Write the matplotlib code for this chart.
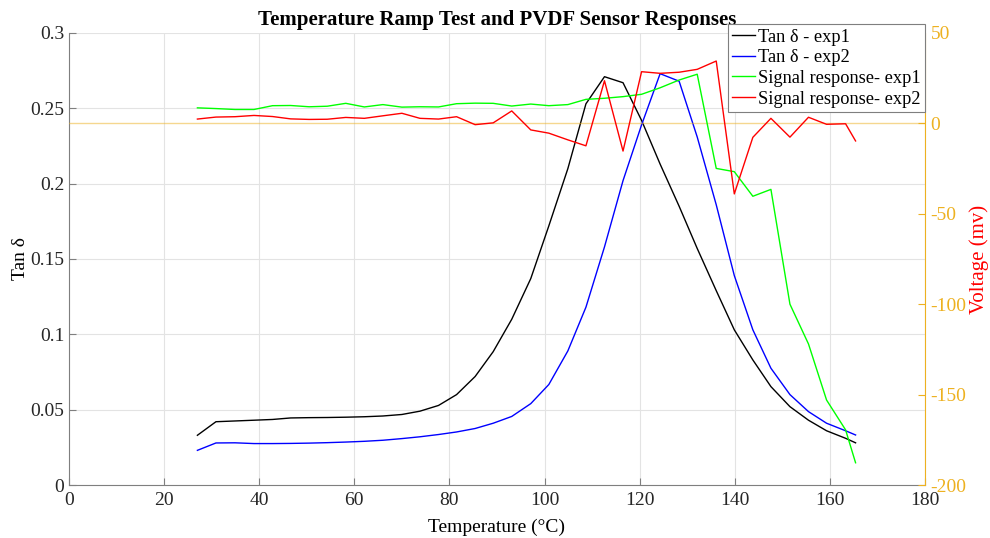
import matplotlib
matplotlib.use("Agg")
import matplotlib.pyplot as plt

plt.rcParams['font.family'] = ['Liberation Serif', 'DejaVu Serif']
plt.rcParams['axes.unicode_minus'] = False

# Temperatures (°C)
temperature = [27.0, 30.9, 34.9, 38.9, 42.8, 46.6, 50.5, 54.3, 58.2, 62.1,
               66.0, 70.0, 73.8, 77.7, 81.5, 85.4, 89.2, 93.1, 97.1, 100.9,
               104.9, 108.7, 112.6, 116.5, 120.4, 124.3, 128.3, 132.1, 136.1, 139.9,
               143.8, 147.6, 151.6, 155.5, 159.3, 163.3, 165.4]

tan_exp1 = [0.033, 0.042, 0.0425, 0.043, 0.0435, 0.0445, 0.0447, 0.0448, 0.045, 0.0453,
            0.0458, 0.0468, 0.049, 0.0528, 0.060, 0.072, 0.0885, 0.110, 0.137, 0.172,
            0.210, 0.253, 0.271, 0.267, 0.242, 0.213, 0.185, 0.157, 0.129, 0.103,
            0.083, 0.0653, 0.052, 0.043, 0.036, 0.031, 0.028]

tan_exp2 = [0.023, 0.0279, 0.028, 0.0275, 0.0275, 0.0276, 0.0278, 0.0281, 0.0285, 0.029,
            0.0297, 0.0308, 0.032, 0.0335, 0.0352, 0.0375, 0.041, 0.0455, 0.054, 0.0667,
            0.089, 0.118, 0.158, 0.202, 0.239, 0.273, 0.268, 0.231, 0.186, 0.139,
            0.103, 0.0775, 0.060, 0.0487, 0.041, 0.036, 0.0332]

signal_exp1 = [8.6, 8.2, 7.7, 7.7, 9.8, 9.9, 9.2, 9.5, 11.1, 9.1,
               10.4, 9.0, 9.2, 9.1, 10.9, 11.2, 11.1, 9.6, 10.7, 9.8,
               10.4, 13.3, 13.9, 14.8, 16.1, 19.7, 24.0, 27.2, -24.9, -26.7,
               -40.3, -36.5, -100.0, -122.0, -153.0, -169.5, -187.7]

signal_exp2 = [2.4, 3.5, 3.7, 4.4, 3.8, 2.5, 2.2, 2.3, 3.3, 2.8,
               4.2, 5.6, 2.8, 2.4, 3.7, -0.7, 0.3, 6.9, -3.6, -5.4,
               -9.1, -12.4, 23.6, -15.3, 28.6, 27.7, 28.3, 29.9, 34.5, -39.0,
               -7.7, 2.8, -7.6, 3.4, -0.5, -0.2, -9.7]

xticks = [0, 20, 40, 60, 80, 100, 120, 140, 160, 180]
left_ticks = [0, 0.05, 0.1, 0.15, 0.2, 0.25, 0.3]
left_ticklabels = ['0', '0.05', '0.1', '0.15', '0.2', '0.25', '0.3']
right_ticks = [-200, -150, -100, -50, 0, 50]

gold = '#EDB120'
fs = 14

fig = plt.figure(figsize=(9.9, 5.38), dpi=100)
ax1 = fig.add_axes([69/990, 1-485/538, (925-69)/990, (485-33)/538])
ax2 = ax1.twinx()

ax1.plot(temperature, tan_exp1, color='black', lw=1.0, label='Tan δ - exp1')
ax1.plot(temperature, tan_exp2, color='#0000FF', lw=1.0, label='Tan δ - exp2')
ax2.axhline(0, color=gold, lw=1.0, alpha=0.5, zorder=1)
ax2.plot(temperature, signal_exp1, color='#00FF00', lw=1.0, label='Signal response- exp1')
ax2.plot(temperature, signal_exp2, color='#FF0000', lw=1.0, label='Signal response- exp2')

ax1.set_xlim(0, 180)
ax1.set_ylim(0, 0.3)
ax2.set_ylim(-200, 50)
ax1.set_xticks(xticks)
ax1.set_yticks(left_ticks)
ax1.set_yticklabels(left_ticklabels)
ax2.set_yticks(right_ticks)

ax1.grid(True, color='#e3e3e3', lw=0.8)
ax1.set_axisbelow(True)

for ax in (ax1, ax2):
    ax.spines['top'].set_visible(False)
ax1.spines['right'].set_visible(False)
ax2.spines['left'].set_visible(False)
ax2.spines['bottom'].set_visible(False)
ax1.spines['left'].set_color('#7f7f7f')
ax1.spines['bottom'].set_color('#7f7f7f')
ax2.spines['right'].set_color(gold)

ax1.tick_params(axis='both', direction='in', length=5, labelsize=fs, colors='#262626')
ax1.tick_params(axis='both', color='#7f7f7f')
ax1.tick_params(axis='x', pad=5)
ax2.tick_params(axis='y', direction='in', length=5, labelsize=fs, colors=gold, pad=4)

ax1.set_xlabel('Temperature (°C)', fontsize=fs, labelpad=7)
ax1.set_ylabel('Tan δ', fontsize=fs, labelpad=1)
ax2.set_ylabel('Voltage (mv)', fontsize=15, color='#FF0000', labelpad=2)
ax1.set_title('Temperature Ramp Test and PVDF Sensor Responses', fontsize=15,
              fontweight='bold', pad=6)

h1, l1 = ax1.get_legend_handles_labels()
h2, l2 = ax2.get_legend_handles_labels()
leg = ax2.legend(h1 + h2, l1 + l2, loc='upper right',
                 bbox_to_anchor=(925/990, 1-24/538), bbox_transform=fig.transFigure,
                 fontsize=13.2, frameon=True, fancybox=False, framealpha=1,
                 edgecolor='#7f7f7f', borderpad=0.25, labelspacing=0.2,
                 handlelength=1.25, handletextpad=0.15, borderaxespad=0)
leg.get_frame().set_linewidth(0.8)

fig.savefig('out.png', dpi=100)
